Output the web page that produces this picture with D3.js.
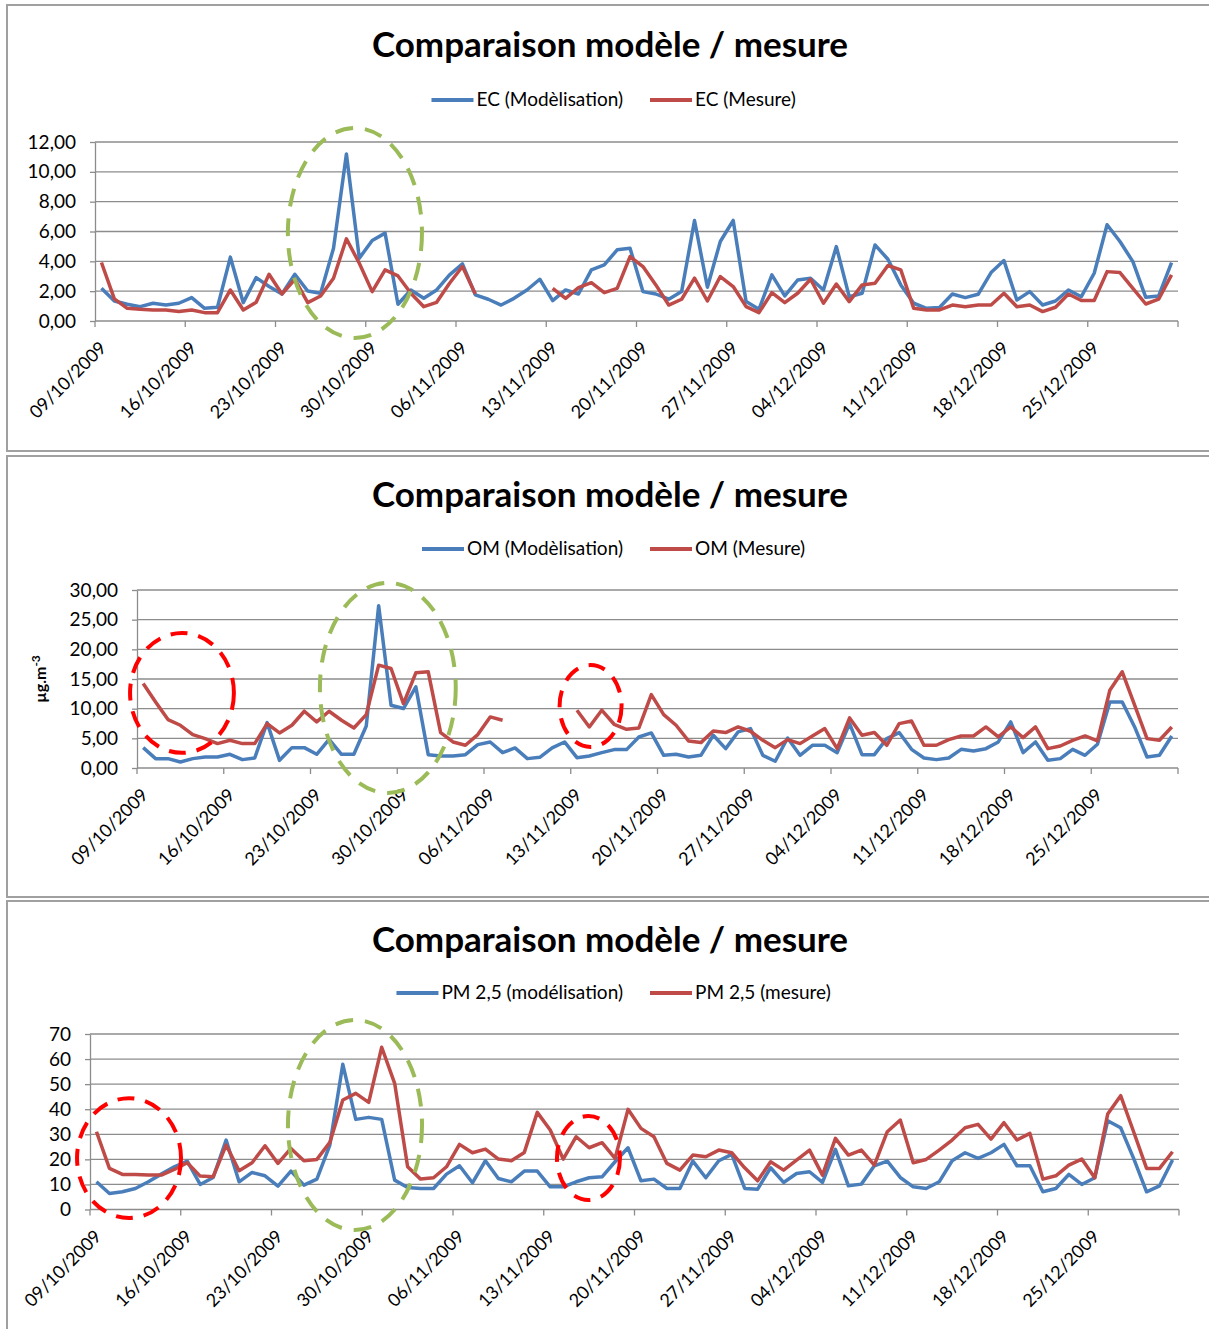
<!DOCTYPE html>
<html>
<head>
<meta charset="utf-8">
<script src="https://cdn.jsdelivr.net/npm/d3@7"></script>
<style>
  body { margin: 0; background: #fff; }
  svg { display: block; font-family: Lato, "Open Sans", sans-serif; }
</style>
</head>
<body>
<div id="chart"></div>
<script>
// categories : one per day, 09/10/2009 -> 31/12/2009
const days = d3.timeDay.range(new Date(2009, 9, 9), new Date(2010, 0, 1));
const categories = days.map(d3.timeFormat("%d/%m/%Y"));
const tickLabels = ["09/10/2009", "16/10/2009", "23/10/2009", "30/10/2009", "06/11/2009", "13/11/2009",
  "20/11/2009", "27/11/2009", "04/12/2009", "11/12/2009", "18/12/2009", "25/12/2009"];

// EC
const ecModel = [2.19, 1.34, 1.12, 0.96, 1.19, 1.07, 1.19, 1.57, 0.85, 0.92, 4.28, 1.23, 2.91, 2.31, 1.81, 3.13,
  2.01, 1.86, 4.88, 11.2, 4.21, 5.4, 5.89, 1.12, 2.08, 1.52, 2.08, 3.09, 3.83, 1.75, 1.46, 1.07, 1.52, 2.08,
  2.8, 1.37, 2.08, 1.81, 3.43, 3.76, 4.77, 4.88, 1.97, 1.81, 1.46, 1.97, 6.74, 2.26, 5.33, 6.74, 1.3, 0.78,
  3.09, 1.68, 2.75, 2.87, 2.08, 4.99, 1.63, 1.86, 5.1, 4.14, 2.42, 1.19, 0.85, 0.9, 1.81, 1.57, 1.79, 3.25,
  4.05, 1.41, 1.97, 1.07, 1.34, 2.08, 1.63, 3.2, 6.45, 5.33, 3.98, 1.59, 1.68, 3.92];
const ecMesure = [3.92, 1.48, 0.85, 0.78, 0.74, 0.74, 0.63, 0.74, 0.56, 0.56, 2.08, 0.74, 1.25, 3.13, 1.81, 2.8,
  1.23, 1.68, 2.87, 5.51, 3.87, 1.97, 3.43, 3.02, 1.86, 0.96, 1.25, 2.53, 3.65, 1.81, null, null, null, null,
  null, 2.19, 1.52, 2.24, 2.57, 1.9, 2.19, 4.32, 3.65, 2.42, 1.07, 1.46, 2.87, 1.34, 2.98, 2.31, 0.96, 0.56,
  1.9, 1.23, 1.86, 2.8, 1.19, 2.48, 1.3, 2.42, 2.53, 3.72, 3.43, 0.85, 0.74, 0.74, 1.07, 0.96, 1.07, 1.07,
  1.86, 0.96, 1.07, 0.63, 0.92, 1.81, 1.37, 1.37, 3.31, 3.25, 2.19, 1.14, 1.46, 3.09];

// OM
const omModel = [3.43, 1.58, 1.58, 1.01, 1.58, 1.86, 1.86, 2.31, 1.41, 1.69, 7.65, 1.29, 3.43, 3.43, 2.31, 4.84,
  2.31, 2.31, 7.09, 27.35, 10.58, 10.02, 13.67, 2.25, 2.03, 2.03, 2.25, 3.94, 4.39, 2.59, 3.38, 1.58, 1.8, 3.38,
  4.39, 1.74, 2.03, 2.59, 3.1, 3.1, 5.23, 5.91, 2.14, 2.31, 1.86, 2.14, 5.52, 3.26, 6.08, 6.64, 2.14, 1.13,
  5.06, 2.14, 3.83, 3.83, 2.59, 7.48, 2.25, 2.25, 4.95, 5.97, 3.15, 1.69, 1.41, 1.69, 3.15, 2.87, 3.26, 4.39,
  7.77, 2.59, 4.39, 1.29, 1.58, 3.15, 2.14, 4.0, 11.14, 11.14, 6.92, 1.86, 2.14, 5.4];
const omMesure = [14.24, 11.14, 8.16, 7.2, 5.63, 4.95, 4.11, 4.67, 4.11, 4.11, 7.48, 5.91, 7.2, 9.57, 7.77, 9.57,
  8.05, 6.75, 9.0, 17.33, 16.77, 10.86, 16.04, 16.21, 5.97, 4.39, 3.83, 5.63, 8.61, 8.05, null, null, null, null,
  null, 9.74, 6.92, 9.74, 7.37, 6.53, 6.75, 12.38, 9.0, 7.2, 4.56, 4.28, 6.25, 5.97, 6.92, 6.19, 4.67, 3.43,
  4.78, 4.11, 5.4, 6.64, 3.26, 8.44, 5.52, 5.97, 3.83, 7.48, 7.93, 3.83, 3.83, 4.78, 5.4, 5.4, 6.92, 5.23,
  6.92, 5.12, 6.92, 3.26, 3.71, 4.67, 5.4, 4.56, 13.11, 16.21, 10.58, 4.95, 4.67, 6.92];

// PM 2,5
const pmModel = [11.05, 6.39, 7.06, 8.39, 11.05, 14.11, 17.04, 19.31, 9.99, 12.78, 27.7, 11.05, 14.78, 13.45, 9.32,
  15.31, 9.72, 12.12, 25.7, 57.92, 35.95, 36.75, 35.95, 11.72, 8.79, 8.39, 8.39, 14.11, 17.44, 10.65, 19.44,
  12.38, 11.05, 15.31, 15.31, 9.05, 9.05, 11.05, 12.65, 13.05, 19.04, 24.63, 11.45, 12.12, 8.39, 8.39, 19.31,
  12.65, 19.44, 21.97, 8.39, 8.12, 16.64, 10.79, 14.38, 15.05, 10.79, 24.0, 9.45, 10.12, 17.44, 19.31, 12.78,
  9.05, 8.39, 11.05, 19.44, 22.64, 20.37, 22.64, 25.97, 17.44, 17.44, 7.06, 8.39, 13.98, 9.99, 12.65, 35.42,
  32.62, 20.37, 7.06, 9.45, 19.71];
const pmMesure = [31.02, 16.38, 13.98, 13.98, 13.72, 13.72, 15.98, 18.64, 13.32, 13.05, 25.7, 15.45, 18.64, 25.43,
  18.38, 24.37, 19.44, 19.97, 26.76, 43.68, 46.34, 42.74, 64.71, 50.33, 17.04, 12.12, 12.65, 17.04, 25.97, 22.64,
  24.1, 20.11, 19.44, 22.77, 38.75, 31.69, 20.11, 29.03, 24.63, 26.63, 20.37, 39.95, 32.36, 29.03, 18.38, 15.71,
  21.7, 21.04, 23.7, 22.64, 16.64, 11.45, 19.04, 15.71, 19.71, 23.7, 13.72, 28.36, 21.7, 23.7, 17.71, 31.02,
  35.69, 18.64, 19.97, 23.7, 27.7, 32.62, 33.95, 28.1, 34.62, 27.7, 30.36, 12.12, 13.45, 17.71, 20.11, 12.65,
  38.08, 45.41, 31.02, 16.38, 16.38, 23.04];

const blue = "#4a7ebb", red = "#be4b48", green = "#9bbb59", annotRed = "#ff0000", grey = "#8c8c8c";
const fr = d3.formatLocale({decimal: ",", thousands: " ", grouping: [3], currency: ["", "€"]});

// one object per chart of the page
const panels = [
  {frame: [7, 5, 1230, 451], titleY: 57, legendY: 100, names: ["EC (Modèlisation)", "EC (Mesure)"],
   model: ecModel, mesure: ecMesure, x0: 95, x1: 1178, yTop: 142, yBot: 321, yMax: 12, yStep: 2, yFmt: ".2f",
   rings: [{c: green, i: 19.66, v: 5.9, ri: 5.2, rv: 7.04}]},
  {frame: [7, 456, 1230, 897], titleY: 507, legendY: 549, names: ["OM (Modèlisation)", "OM (Mesure)"],
   model: omModel, mesure: omMesure, x0: 137, x1: 1178, yTop: 590, yBot: 768, yMax: 30, yStep: 5, yFmt: ".2f",
   yTitle: true,
   rings: [{c: annotRed, i: 3.13, v: 12.65, ri: 4.19, rv: 10.1},
           {c: green, i: 19.74, v: 13.5, ri: 5.48, rv: 17.7},
           {c: annotRed, i: 36.1, v: 10.45, ri: 2.5, rv: 6.9}]},
  {frame: [7, 901, 1230, 1340], titleY: 952, legendY: 993, names: ["PM 2,5 (modélisation)", "PM 2,5 (mesure)"],
   model: pmModel, mesure: pmMesure, x0: 90, x1: 1179, yTop: 1034, yBot: 1209.5, yMax: 70, yStep: 10, yFmt: "d",
   rings: [{c: annotRed, i: 2.51, v: 20.5, ri: 4.01, rv: 23.9},
           {c: green, i: 19.94, v: 33.7, ri: 5.17, rv: 41.9},
           {c: annotRed, i: 37.95, v: 20.5, ri: 2.43, rv: 16.75}]}
];

const svg = d3.select("#chart").append("svg")
  .attr("width", 1209)
  .attr("height", 1329);

panels.forEach(p => {
  const g = svg.append("g");

  g.append("rect")
    .attr("x", p.frame[0]).attr("y", p.frame[1])
    .attr("width", p.frame[2] - p.frame[0]).attr("height", p.frame[3] - p.frame[1])
    .attr("fill", "#fff").attr("stroke", "#a0a0a0").attr("stroke-width", 2);

  const x = d3.scaleBand().domain(categories).range([p.x0, p.x1]);
  const bw = x.bandwidth();
  const y = d3.scaleLinear().domain([0, p.yMax]).range([p.yBot, p.yTop]);
  const yTicks = d3.range(0, p.yMax + p.yStep / 2, p.yStep);

  // horizontal gridlines
  g.append("g").selectAll("line").data(yTicks.slice(1)).join("line")
    .attr("x1", p.x0).attr("x2", p.x1)
    .attr("y1", d => y(d)).attr("y2", d => y(d))
    .attr("stroke", grey).attr("stroke-width", 1.3);

  // y axis
  const yAxis = g.append("g")
    .attr("transform", `translate(${p.x0},0)`)
    .call(d3.axisLeft(y).tickValues(yTicks).tickSize(5).tickSizeOuter(0).tickPadding(14)
      .tickFormat(fr.format(p.yFmt)));
  yAxis.select(".domain").attr("stroke", grey).attr("stroke-width", 1.3);
  yAxis.selectAll(".tick line").attr("stroke", grey).attr("stroke-width", 1.3);
  yAxis.selectAll("text").attr("font-size", 19).attr("fill", "#000").attr("font-family", "Lato");

  // x axis : tick marks between categories, every 7 days
  g.append("line")
    .attr("x1", p.x0).attr("x2", p.x1).attr("y1", p.yBot).attr("y2", p.yBot)
    .attr("stroke", grey).attr("stroke-width", 1.3);
  const tickIdx = d3.range(0, categories.length + 1, 7);
  g.append("g").selectAll("line").data(tickIdx).join("line")
    .attr("x1", i => i < categories.length ? x(categories[i]) : p.x1)
    .attr("x2", i => i < categories.length ? x(categories[i]) : p.x1)
    .attr("y1", p.yBot).attr("y2", p.yBot + 6)
    .attr("stroke", grey).attr("stroke-width", 1.3);

  g.append("g").selectAll("text").data(tickLabels).join("text")
    .attr("transform", d => `translate(${x(d) + bw / 2 + 6},${p.yBot + 28}) rotate(-45)`)
    .attr("text-anchor", "end")
    .attr("font-size", 18)
    .text(d => d);

  // series
  const line = d3.line()
    .defined(d => d != null)
    .x((d, i) => x(categories[i]) + bw / 2)
    .y(d => y(d));
  g.append("path").datum(p.model)
    .attr("d", line).attr("fill", "none").attr("stroke", blue)
    .attr("stroke-width", 3.5).attr("stroke-linejoin", "round");
  g.append("path").datum(p.mesure)
    .attr("d", line).attr("fill", "none").attr("stroke", red)
    .attr("stroke-width", 3.5).attr("stroke-linejoin", "round");

  // dashed rings drawn over the chart
  g.append("g").selectAll("ellipse").data(p.rings).join("ellipse")
    .attr("cx", r => p.x0 + (r.i + 0.5) * bw)
    .attr("cy", r => y(r.v))
    .attr("rx", r => r.ri * bw)
    .attr("ry", r => y(0) - y(r.rv))
    .attr("fill", "none")
    .attr("stroke", r => r.c)
    .attr("stroke-width", 4)
    .attr("stroke-dasharray", r => r.c === green ? "18,12" : "17,11");

  // title
  g.append("text")
    .attr("x", 610).attr("y", p.titleY)
    .attr("text-anchor", "middle")
    .attr("font-size", 35).attr("font-weight", "bold")
    .text("Comparaison modèle / mesure");

  // legend
  const t1 = g.append("text")
    .attr("x", 623).attr("y", p.legendY + 6)
    .attr("text-anchor", "end").attr("font-size", 19)
    .text(p.names[0]);
  const w1 = t1.node().getComputedTextLength();
  g.append("line")
    .attr("x1", 623 - w1 - 45).attr("x2", 623 - w1 - 3)
    .attr("y1", p.legendY).attr("y2", p.legendY)
    .attr("stroke", blue).attr("stroke-width", 4);
  g.append("line")
    .attr("x1", 650).attr("x2", 692)
    .attr("y1", p.legendY).attr("y2", p.legendY)
    .attr("stroke", red).attr("stroke-width", 4);
  g.append("text")
    .attr("x", 695).attr("y", p.legendY + 6)
    .attr("font-size", 19)
    .text(p.names[1]);

  if (p.yTitle) {
    const yt = g.append("text")
      .attr("transform", `translate(46,${(p.yTop + p.yBot) / 2}) rotate(-90)`)
      .attr("text-anchor", "middle")
      .attr("font-size", 16).attr("font-weight", "bold");
    yt.append("tspan").text("µg.m");
    yt.append("tspan").attr("dy", -6).attr("font-size", 12).text("-3");
  }
});
</script>
</body>
</html>
